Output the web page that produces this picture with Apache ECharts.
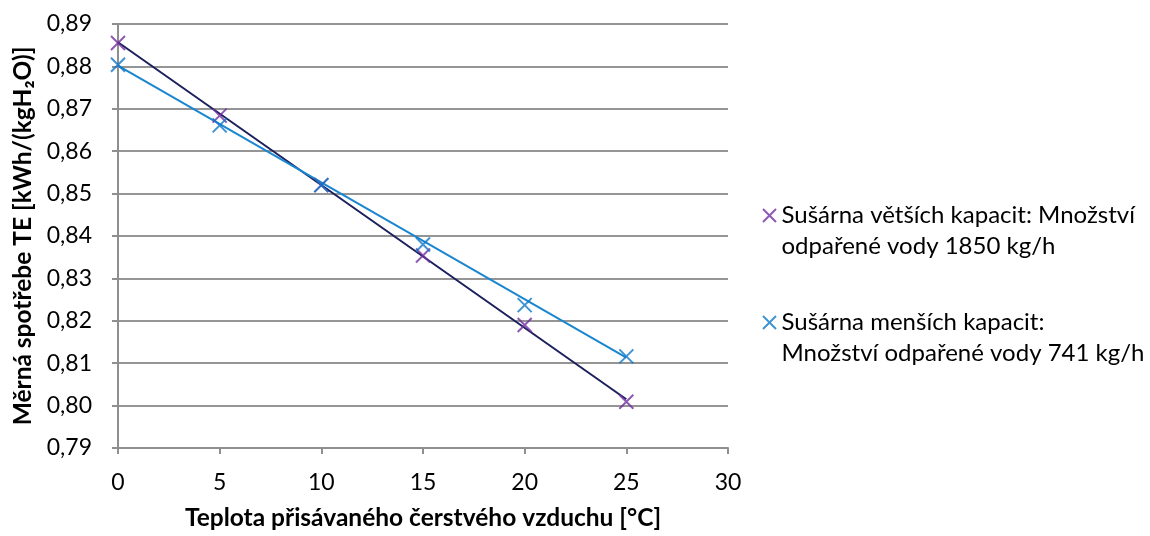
<!DOCTYPE html>
<html>
<head>
<meta charset="utf-8">
<script src="https://cdn.jsdelivr.net/npm/echarts@6/dist/echarts.min.js"></script>
<style>
html,body{margin:0;padding:0;background:#fff;}
#chart{width:1150px;height:536px;}
</style>
</head>
<body>
<div id="chart"></div>
<script>
// ---- data ----
var temps = [0, 5, 10, 15, 20, 25];
var largeDryer = [0.8855, 0.8684, 0.8520, 0.8354, 0.8190, 0.8009];
var smallDryer = [0.8804, 0.8661, 0.8520, 0.8380, 0.8237, 0.8116];
// trend line endpoints
var trendX = [0, 25];
var largeTrend = [0.8857, 0.8015];
var smallTrend = [0.8802, 0.8113];
var seriesNames = [
  'Sušárna větších kapacit: Množství odpařené vody 1850 kg/h',
  'Sušárna menších kapacit: Množství odpařené vody 741 kg/h'
];
var legendLabels = [
  'Sušárna větších kapacit: Množství\nodpařené vody 1850 kg/h',
  'Sušárna menších kapacit:\nMnožství odpařené vody 741 kg/h'
];
var xTitle = 'Teplota přisávaného čerstvého vzduchu [°C]';
var yTitle = 'Měrná spotřebe TE [kWh/(kgH₂O)]';

function pairs(xs, ys) { return xs.map(function (x, i) { return [x, ys[i]]; }); }

var FONT = 'Lato';
var crossPath = 'path://M0,0L10,10M10,0L0,10';
var legendCross = 'path://M0,0L13,13M13,0L0,13M0,44';

var chart = echarts.init(document.getElementById('chart'));
chart.setOption({
  animation: false,
  backgroundColor: '#fff',
  textStyle: { fontFamily: FONT, color: '#000' },
  grid: { left: 118, right: 422, top: 24, bottom: 85 },
  xAxis: {
    type: 'value', min: 0, max: 30, interval: 5,
    name: xTitle, nameLocation: 'middle', nameGap: 58,
    nameTextStyle: { fontFamily: FONT, fontSize: 24.5, fontWeight: 'bold', color: '#000' },
    axisLine: { show: true, lineStyle: { color: '#8f8f8f', width: 2 } },
    axisTick: { show: true, length: 6, lineStyle: { color: '#8f8f8f', width: 2 } },
    axisLabel: { fontFamily: FONT, fontSize: 23, color: '#000', margin: 23 },
    splitLine: { show: false }
  },
  yAxis: {
    type: 'value', min: 0.79, max: 0.89, interval: 0.01,
    name: yTitle, nameLocation: 'middle', nameGap: 77, nameRotate: 90,
    nameTextStyle: { fontFamily: FONT, fontSize: 24.5, fontWeight: 'bold', color: '#000' },
    axisLine: { show: true, lineStyle: { color: '#8f8f8f', width: 2 } },
    axisTick: { show: true, length: 6, lineStyle: { color: '#8f8f8f', width: 2 } },
    axisLabel: { fontFamily: FONT, fontSize: 23, color: '#000', margin: 26,
      formatter: function (v) { return v.toFixed(2).replace('.', ','); } },
    splitLine: { show: true, lineStyle: { color: '#959595', width: 2 } }
  },
  legend: {
    orient: 'vertical', left: 757, top: 195, itemGap: 45,
    itemWidth: 14, itemHeight: 44,
    data: [
      { name: seriesNames[0], icon: legendCross },
      { name: seriesNames[1], icon: legendCross }
    ],
    formatter: function (n) { return legendLabels[seriesNames.indexOf(n)]; },
    textStyle: { fontFamily: FONT, fontSize: 24, lineHeight: 31, color: '#000' }
  },
  series: [
    { type: 'line', name: 'trend1', data: pairs(trendX, largeTrend), showSymbol: false,
      lineStyle: { color: '#1b1f5c', width: 2 }, z: 2, silent: true },
    { type: 'line', name: 'trend2', data: pairs(trendX, smallTrend), showSymbol: false,
      lineStyle: { color: '#1a86d0', width: 2 }, z: 2, silent: true },
    { type: 'scatter', name: seriesNames[0], data: pairs(temps, largeDryer),
      symbol: crossPath, symbolSize: 14, z: 3,
      itemStyle: { color: '#7030a0', borderColor: '#7030a0', borderWidth: 2 } },
    { type: 'scatter', name: seriesNames[1], data: pairs(temps, smallDryer),
      symbol: crossPath, symbolSize: 14, z: 3,
      itemStyle: { color: '#0f78c8', borderColor: '#0f78c8', borderWidth: 2 } }
  ]
});
</script>
</body>
</html>
